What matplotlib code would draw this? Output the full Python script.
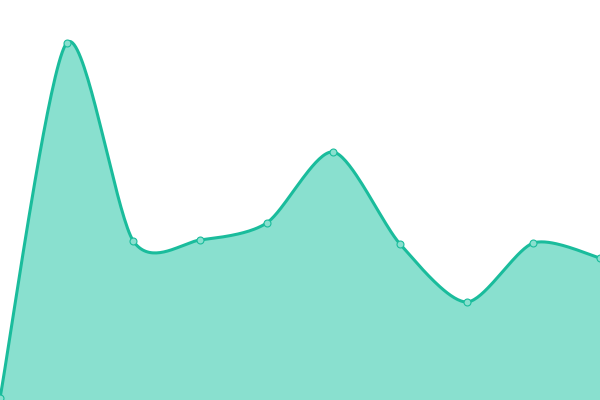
import numpy as np
import matplotlib
matplotlib.use("Agg")
import matplotlib.pyplot as plt

# values (y axis 0..400)
positions = list(range(10))
values = [2, 357, 159, 160, 177, 248, 156, 98, 157, 142]

LINE = "#1abc9c"
FILL = "#89e0cf"


def cardinal(xs, ys, k=0.4, steps=40):
    """Smooth curve through the points (cardinal spline, tangent factor k)."""
    xs = np.asarray(xs, float)
    ys = np.asarray(ys, float)
    t = np.linspace(0, 1, steps)
    h00 = 2 * t ** 3 - 3 * t ** 2 + 1
    h10 = t ** 3 - 2 * t ** 2 + t
    h01 = -2 * t ** 3 + 3 * t ** 2
    h11 = t ** 3 - t ** 2
    n = len(xs)

    def tangents(p):
        m = np.zeros(n)
        for i in range(n):
            a = p[max(i - 1, 0)]
            b = p[min(i + 1, n - 1)]
            m[i] = k * (b - a)
        return m

    mx, my = tangents(xs), tangents(ys)
    out_x, out_y = [], []
    for i in range(n - 1):
        out_x.extend(h00 * xs[i] + h10 * mx[i] + h01 * xs[i + 1] + h11 * mx[i + 1])
        out_y.extend(h00 * ys[i] + h10 * my[i] + h01 * ys[i + 1] + h11 * my[i + 1])
    return np.array(out_x), np.array(out_y)


fig = plt.figure(figsize=(6, 4), dpi=100)
ax = fig.add_axes([0, 0, 1, 1])

sx, sy = cardinal(positions, values)
ax.fill_between(sx, 0, sy, color=FILL, linewidth=0)
ax.plot(sx, sy, color=LINE, linewidth=2.2, solid_capstyle="round")
ax.plot(positions, values, "o", markersize=5, markerfacecolor=FILL,
        markeredgecolor=LINE, markeredgewidth=0.8)

ax.set_xlim(0, 9)
ax.set_ylim(0, 400)
ax.axis("off")

fig.savefig("out.png", dpi=100)
